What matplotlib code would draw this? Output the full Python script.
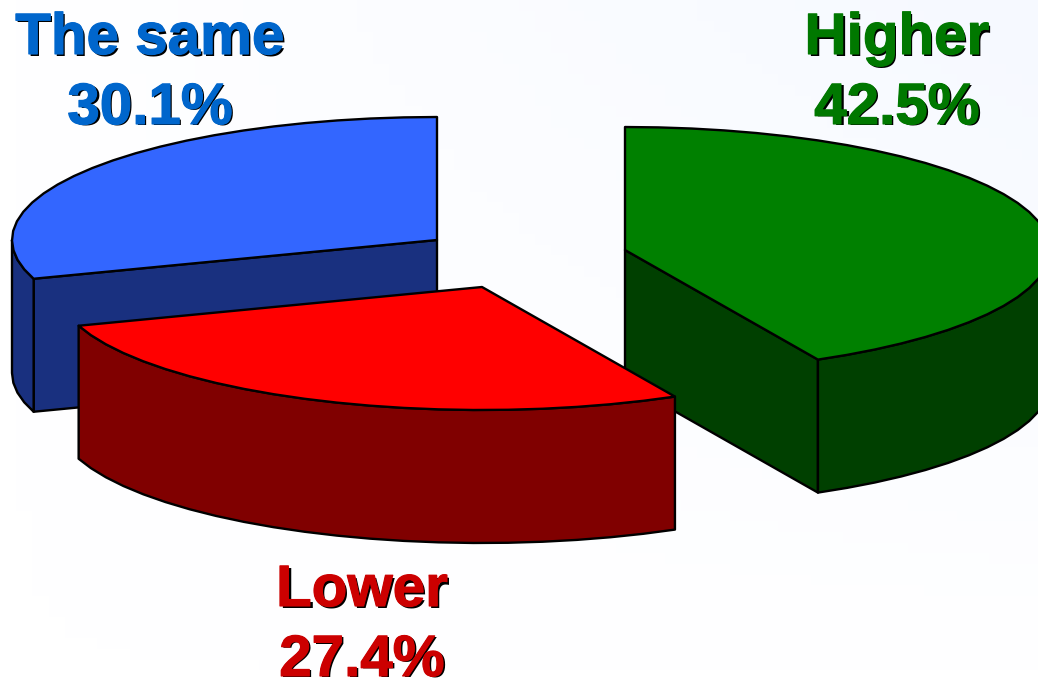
import matplotlib

matplotlib.use("Agg")
import matplotlib.pyplot as plt
import matplotlib.patheffects as pe
from matplotlib.colors import LinearSegmentedColormap
from matplotlib.patches import Polygon
import numpy as np

names = ["The same", "Higher", "Lower"]
shares = [30.1, 42.5, 27.4]
labels = ["30.1%", "42.5%", "27.4%"]
top_colors = ["#3366ff", "#008000", "#ff0000"]
side_colors = ["#19307f", "#004000", "#800000"]
text_colors = ["#0066cc", "#007800", "#cc0000"]

# apex of each exploded slice, in pixels
apex = [(437, 240), (625, 250), (482, 287)]
text_x = [150, 897, 362]
text_y = [(54, 124), (54, 124), (606, 676)]

RX, RY, DEPTH = 425, 123, 133
FACET_DEG = 4.5  # the original arcs are coarse polygons


def arc(center, a0, a1):
    n = max(int(abs(a1 - a0) / FACET_DEG), 2) + 1
    t = np.radians(np.linspace(a0, a1, n))
    return np.column_stack([center[0] + RX * np.cos(t), center[1] - RY * np.sin(t)])


def face(ax, pts, color):
    ax.add_patch(Polygon(pts, closed=True, fc=color, ec="black", lw=1.7, joinstyle="round"))


def wall(ax, center, a0, a1, color):
    top = arc(center, a0, a1)
    face(ax, np.vstack([top, (top + [0, DEPTH])[::-1]]), color)


def cut(ax, center, a, color):
    edge = arc(center, a, a + 1)[0]
    c = np.array(center, dtype=float)
    face(ax, [c, edge, edge + [0, DEPTH], c + [0, DEPTH]], color)


fig = plt.figure(figsize=(10.38, 6.81), dpi=100, facecolor="white")
ax = fig.add_axes([0, 0, 1, 1])

# faint blue tint towards the upper right of the slide
tint = LinearSegmentedColormap.from_list("tint", ["#ffffff", "#f6f9ff"])
ramp = np.outer(np.linspace(1, 0, 64), np.linspace(0, 1, 64))
ax.imshow(ramp, cmap=tint, extent=(0, 1038, 681, 0), aspect="auto", vmin=0, vmax=1)

ax.set_xlim(0, 1038)
ax.set_ylim(681, 0)
ax.axis("off")

# slice angles, clockwise from 12 o'clock
blue_end = 90 + shares[0] * 3.6
green_end = 90 - shares[1] * 3.6

# blue
cut(ax, apex[0], blue_end, side_colors[0])
wall(ax, apex[0], 180, blue_end, side_colors[0])
face(ax, np.vstack([apex[0], arc(apex[0], 90, blue_end)]), top_colors[0])

# green
cut(ax, apex[1], green_end, side_colors[1])
wall(ax, apex[1], green_end, 0, side_colors[1])
face(ax, np.vstack([apex[1], arc(apex[1], 90, green_end)]), top_colors[1])

# red, front slice goes last
wall(ax, apex[2], blue_end, green_end + 360, side_colors[2])
face(ax, np.vstack([apex[2], arc(apex[2], blue_end, green_end + 360)]), top_colors[2])

for i in range(3):
    for s, y in zip((names[i], labels[i]), text_y[i]):
        kw = dict(ha="center", va="baseline", fontsize=42, fontweight="bold", family="Liberation Sans")
        ax.text(text_x[i] + 2, y + 2, s, color="black", **kw)
        ax.text(
            text_x[i], y, s, color=text_colors[i],
            path_effects=[pe.withStroke(linewidth=0.8, foreground=text_colors[i])],
            **kw,
        )

fig.savefig("out.png", dpi=100)
